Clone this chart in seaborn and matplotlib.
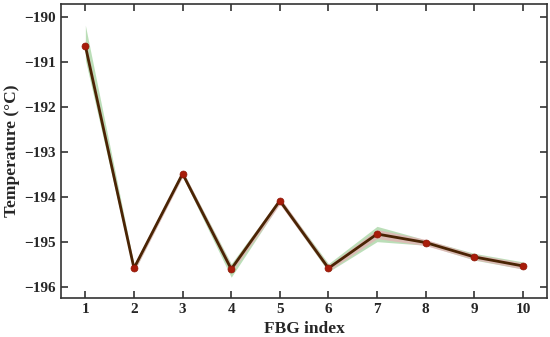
import numpy as np
import pandas as pd
import matplotlib
matplotlib.use("Agg")
import matplotlib.pyplot as plt
import seaborn as sns

fbg_index = [1, 2, 3, 4, 5, 6, 7, 8, 9, 10]
temperature = [-190.64, -195.58, -193.48, -195.60, -194.08, -195.58, -194.82, -195.01, -195.33, -195.53]
green_upper = [-190.18, -195.50, -193.42, -195.48, -194.02, -195.48, -194.65, -194.95, -195.25, -195.44]
green_lower = [-190.95, -195.66, -193.54, -195.78, -194.14, -195.66, -194.99, -195.07, -195.40, -195.60]
pink_upper = [-190.50, -195.50, -193.41, -195.52, -194.00, -195.52, -194.72, -194.94, -195.27, -195.46]
pink_lower = [-190.78, -195.66, -193.55, -195.68, -194.16, -195.64, -194.92, -195.08, -195.39, -195.60]
yticks = [-196, -195, -194, -193, -192, -191, -190]

df = pd.DataFrame({"FBG index": fbg_index, "Temperature": temperature})

sns.set_theme(style="ticks")
plt.rcParams["font.family"] = ["Liberation Serif", "DejaVu Serif"]
plt.rcParams["font.weight"] = "bold"

fig, ax = plt.subplots(figsize=(5.5, 3.37), dpi=100)
fig.subplots_adjust(left=0.111, right=0.995, top=0.988, bottom=0.116)

ax.fill_between(fbg_index, green_lower, green_upper, color="#8fc98a", alpha=0.6, linewidth=0)
ax.fill_between(fbg_index, pink_lower, pink_upper, color="#f4a0b4", alpha=0.55, linewidth=0)
sns.lineplot(data=df, x="FBG index", y="Temperature", ax=ax, color="#4a2404",
             linewidth=2.0, marker="o", markersize=5, markerfacecolor="#a81c0a",
             markeredgecolor="#8e1808", markeredgewidth=0.5)

ax.set_xlim(0.5, 10.5)
ax.set_ylim(-196.24, -189.71)
ax.set_xticks(fbg_index)
ax.set_yticks(yticks)
ax.set_yticklabels([f"\u2212{abs(v)}" for v in yticks])
ax.set_xlabel("FBG index", fontsize=12.5, fontweight="bold", va="baseline")
ax.set_ylabel("Temperature (\u00b0C)", fontsize=12.5, fontweight="bold", va="center")
ax.xaxis.set_label_coords(0.5, -0.119)
ax.yaxis.set_label_coords(-0.1, 0.5)
ax.tick_params(direction="in", top=True, right=True, length=5, width=1.2,
               labelsize=11, color="#333333", pad=4)
for lab in ax.get_xticklabels() + ax.get_yticklabels():
    lab.set_fontweight("bold")
for s in ax.spines.values():
    s.set_color("#333333")
    s.set_linewidth(1.2)

fig.savefig("out.png", dpi=100)
